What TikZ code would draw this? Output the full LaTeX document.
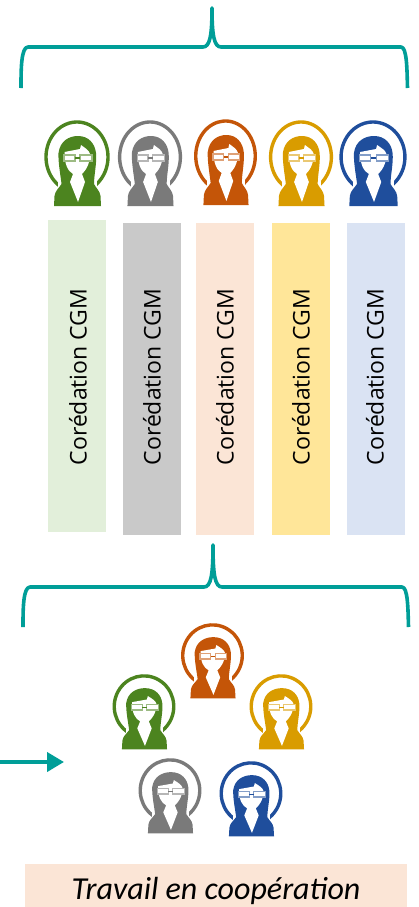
\documentclass[tikz,border=0pt]{standalone}
\usepackage{fontspec}
\setmainfont{Open Sans}
\newfontfamily\captionfont{Carlito}
\usepackage{xcolor}
\usetikzlibrary{arrows.meta}
\definecolor{teal}{HTML}{009E98}
\definecolor{pgreen}{HTML}{4C841F}
\definecolor{pgray}{HTML}{7A7A7A}
\definecolor{porange}{HTML}{C45508}
\definecolor{pyellow}{HTML}{D99C00}
\definecolor{pblue}{HTML}{1F4E9C}
\definecolor{bgreen}{HTML}{E2EFDA}
\definecolor{bgray}{HTML}{C9C9C9}
\definecolor{borange}{HTML}{FBE5D6}
\definecolor{byellow}{HTML}{FFE699}
\definecolor{bblue}{HTML}{DAE3F3}
\tikzset{
  brace/.style={draw=teal, line width=3.6pt, line cap=butt, line join=round},
  flow/.style={-{Triangle[length=17pt,width=19pt]}, draw=teal, line width=4pt},
  column/.style={minimum width=58pt, minimum height=312pt, inner sep=0pt, anchor=north},
  coltext/.style={rotate=90, font=\fontsize{23}{25}\selectfont, text=black}
}
\newcommand{\DrawPerson}[5]{% x,y,colour,xscale,yscale
  \begin{scope}[shift={(#1,#2)},xscale=#4,yscale=#5]
    \draw[#3, line width=3.4pt] (-15.5,-34.3) arc[start angle=240, end angle=-60, x radius=31, y radius=35];
    \fill[white] (-19,-38) -- (-19,-26) -- (20,-26) -- (20,-38) -- cycle;
    \fill[#3] (-23,-53) -- (-22.5,-43) .. controls (-22,-38) and (-18,-35) .. (-15.5,-31)
      .. controls (-16,-25) and (-19,-10) .. (-18.5,0) .. controls (-17,12) and (-8,17) .. (1,17)
      .. controls (12,17) and (18,9) .. (19,0) .. controls (20,-10) and (17,-22) .. (17,-31)
      .. controls (19,-35) and (23,-38) .. (23.5,-43) -- (24,-53) -- cycle;
    \fill[white] (-12.5,1) -- (3,4) -- (4,8) .. controls (8,5) and (12,3) .. (13,-1)
      .. controls (13,-12) and (8,-18) .. (5,-21) -- (8,-29) -- (1,-49) -- (-7,-29)
      -- (-4,-21) .. controls (-9,-18) and (-12.5,-12) .. (-12.5,1) -- cycle;
    \draw[#3!55!white, fill=white, line width=1.1pt] (-13,-8) rectangle (-2,-2);
    \draw[#3!55!white, fill=white, line width=1.1pt] (3,-8) rectangle (15,-2);
    \fill[#3] (-2,-6) rectangle (3,-4);
  \end{scope}
}
\begin{document}
\begin{tikzpicture}[x=1pt,y=1pt]
  \useasboundingbox (0,0) rectangle (418,-907);
  % upper brace
  \draw[brace] (21,-88) .. controls (21,-70) and (21,-47) .. (28,-47) -- (203,-47)
    .. controls (210,-47) and (212,-35) .. (212,-8)
    .. controls (212,-35) and (214,-47) .. (221,-47) -- (401,-47)
    .. controls (407,-47) and (407,-70) .. (407.5,-88);
  % people above the columns
  \DrawPerson{77}{-153}{pgreen}{1}{1}
  \DrawPerson{150}{-153}{pgray}{0.98}{1}
  \DrawPerson{225.5}{-152}{porange}{0.96}{1}
  \DrawPerson{301}{-153}{pyellow}{0.98}{1}
  \DrawPerson{373}{-153}{pblue}{1.03}{1}
  % columns
  \node[column, fill=bgreen] (colgreen) at (77,-220) {};
  \node[column, fill=bgray] (colgray) at (152,-223) {};
  \node[column, fill=borange] (colorange) at (225,-223) {};
  \node[column, fill=byellow] (colyellow) at (301,-223) {};
  \node[column, fill=bblue] (colblue) at (376,-223) {};
  \node[coltext] (txtgreen) at (78,-377) {Corédation CGM};
  \node[coltext] (txtgray) at (152,-377) {Corédation CGM};
  \node[coltext] (txtorange) at (225,-377) {Corédation CGM};
  \node[coltext] (txtyellow) at (301,-377) {Corédation CGM};
  \node[coltext] (txtblue) at (375,-377) {Corédation CGM};
  % lower brace
  \draw[brace] (23,-627) .. controls (23,-610) and (23,-587) .. (30,-587) -- (204,-587)
    .. controls (211,-587) and (213,-575) .. (213,-545)
    .. controls (213,-575) and (215,-587) .. (222,-587) -- (402,-587)
    .. controls (408,-587) and (408,-610) .. (408.5,-627);
  % group of people
  \DrawPerson{212.5}{-652}{porange}{0.96}{0.875}
  \DrawPerson{144}{-703}{pgreen}{0.96}{0.875}
  \DrawPerson{281}{-703}{pyellow}{0.96}{0.875}
  \DrawPerson{170}{-787}{pgray}{0.96}{0.875}
  \DrawPerson{251}{-790}{pblue}{0.96}{0.875}
  % arrow
  \coordinate (flowstart) at (0,-762);
  \coordinate (flowend) at (64,-762);
  \draw[flow] (flowstart) -- (flowend);
  % caption
  \node[fill=borange, minimum width=382pt, minimum height=43pt, inner sep=0pt, anchor=north west] (caption) at (25,-864) {};
  \node[font=\captionfont\itshape\fontsize{32}{34}\selectfont, text=black] (captiontext) at (216,-891) {Travail en coopération};
\end{tikzpicture}
\end{document}
